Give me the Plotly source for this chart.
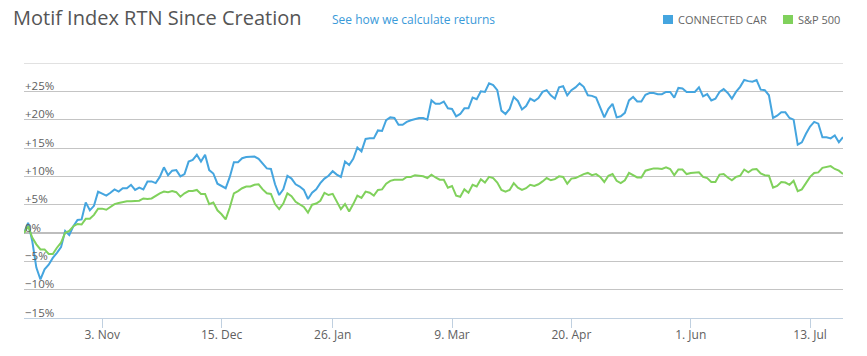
import plotly.graph_objects as go
import pandas as pd

# ---- data ----
start_date = "2014-10-07"
market_holidays = ["2014-11-27", "2014-12-25", "2015-01-01", "2015-01-19",
                   "2015-02-16", "2015-04-03", "2015-05-25", "2015-07-03"]

connected_car = [
    0, 1.8, -1.4, -6.1, -8.2, -6.4, -5.6, -4.4, -3.5, -2.5,
    0.35, -0.35, 1.2, 2.3, 2.4, 5.4, 4.0, 4.8, 7.3, 7.0,
    6.6, 7.1, 7.7, 7.3, 7.9, 7.9, 8.5, 7.6, 8.0, 7.7,
    9.1, 9.1, 8.8, 9.9, 11.6, 10.2, 11.0, 11.1, 10.0, 10.4,
    12.6, 12.9, 13.8, 12.6, 13.8, 11.1, 10.5, 8.7, 8.3, 7.9,
    9.9, 12.5, 12.5, 13.2, 13.4, 13.4, 13.5, 13.1, 12.2, 11.4,
    11.3, 8.6, 6.7, 7.7, 10.1, 9.6, 8.6, 8.2, 7.6, 6.0,
    7.1, 7.7, 8.8, 9.6, 10.1, 10.9, 10.3, 9.9, 12.6, 12.0,
    13.1, 15.1, 14.4, 16.6, 16.7, 16.7, 18.1, 18.0, 19.9, 20.4,
    20.3, 19.1, 19.1, 19.6, 19.9, 20.1, 20.3, 20.3, 20.0, 23.4,
    22.8, 22.8, 23.2, 22.0, 21.9, 20.6, 21.0, 22.0, 22.0, 23.9,
    23.6, 25.0, 24.9, 26.4, 26.1, 25.2, 21.6, 21.0, 21.9, 24.0,
    23.3, 21.8, 22.4, 23.7, 23.3, 23.8, 24.9, 25.2, 24.3, 23.7,
    25.7, 25.9, 24.3, 25.2, 25.7, 26.4, 25.8, 24.3, 24.2, 23.9,
    22.3, 20.4, 21.9, 22.8, 20.4, 20.6, 21.2, 23.4, 24.0, 23.2,
    23.2, 24.4, 24.7, 24.7, 24.5, 24.5, 24.9, 24.9, 23.9, 25.6,
    25.5, 24.9, 24.9, 24.9, 25.7, 24.1, 24.5, 23.4, 23.7, 24.9,
    25.4, 24.7, 23.7, 24.9, 25.8, 27.0, 26.8, 26.7, 27.0, 25.3,
    25.2, 24.3, 20.3, 20.7, 21.3, 21.3, 20.3, 20.0, 15.6, 16.0,
    17.5, 18.8, 19.6, 19.3, 16.9, 16.9, 16.7, 17.2, 16.0, 16.9,
]

sp500 = [
    0, 1.2, -0.8, -2.0, -2.9, -2.9, -3.7, -3.7, -2.6, -1.7,
    0.05, 0.35, 1.2, 1.6, 1.5, 2.5, 2.5, 3.2, 4.3, 4.3,
    4.1, 4.6, 5.1, 5.3, 5.5, 5.6, 5.6, 5.6, 5.7, 6.1,
    6.0, 6.1, 6.6, 7.0, 7.3, 7.2, 7.4, 7.2, 6.4, 7.0,
    7.4, 7.4, 7.6, 6.9, 6.9, 5.1, 5.4, 4.0, 3.3, 2.4,
    4.5, 7.0, 7.4, 7.9, 8.2, 8.2, 8.5, 8.6, 7.7, 7.0,
    6.9, 5.1, 4.2, 5.2, 7.0, 6.5, 5.5, 5.1, 4.6, 3.6,
    5.0, 5.2, 5.7, 7.1, 6.7, 6.9, 5.6, 4.2, 5.1, 3.8,
    5.1, 6.6, 6.2, 7.3, 7.1, 6.6, 7.6, 7.7, 8.7, 9.2,
    9.4, 9.4, 9.4, 9.9, 9.9, 10.2, 10.1, 10.0, 9.7, 10.3,
    9.8, 9.4, 9.4, 8.0, 8.3, 6.6, 6.4, 7.7, 7.1, 8.5,
    8.2, 9.5, 8.9, 9.9, 9.7, 8.9, 7.6, 7.3, 7.6, 8.8,
    8.0, 7.6, 7.9, 8.5, 8.3, 8.6, 9.1, 9.7, 9.3, 9.5,
    10.0, 9.9, 8.7, 9.6, 9.7, 10.1, 10.4, 10.6, 10.2, 10.4,
    9.9, 9.0, 10.1, 10.4, 9.2, 8.8, 9.3, 10.6, 10.2, 9.8,
    9.8, 11.0, 11.2, 11.4, 11.4, 11.3, 11.6, 11.3, 10.2, 11.2,
    11.2, 10.4, 10.6, 10.6, 10.7, 9.9, 9.7, 9.0, 9.0, 10.3,
    10.4, 9.8, 9.3, 9.9, 10.1, 11.2, 10.7, 11.2, 11.3, 10.5,
    10.2, 10.1, 8.0, 8.3, 9.0, 8.9, 8.5, 9.2, 7.4, 7.7,
    8.8, 9.9, 10.6, 10.7, 11.5, 11.7, 11.8, 11.3, 11.0, 10.4,
]

series_names = ["CONNECTED CAR", "S&P 500"]
series_colors = ["#45A5DF", "#80D15C"]

x_tick_dates = ["2014-11-03", "2014-12-15", "2015-01-26", "2015-03-09",
                "2015-04-20", "2015-06-01", "2015-07-13"]
x_tick_labels = ["3. Nov", "15. Dec", "26. Jan", "9. Mar", "20. Apr", "1. Jun", "13. Jul"]

y_tick_vals = [-15, -10, -5, 0, 5, 10, 15, 20, 25, 30]
y_tick_labels = ["\u221215%", "\u221210%", "\u22125%", "0%", "+5%", "+10%",
                 "+15%", "+20%", "+25%", ""]

title_text = "Motif Index RTN Since Creation"
link_text = "See how we calculate returns"

# ---- figure ----
dates = pd.bdate_range(start=start_date, periods=len(connected_car), freq="C",
                       holidays=market_holidays)

W, H = 867, 356
ML, MR, MT, MB = 24, 24, 63, 38
PW, PH = W - ML - MR, H - MT - MB


def px_x(px):
    return (px - ML) / PW


def px_y(py):
    return (H - MB - py) / PH


fig = go.Figure()
for name, vals, col in zip(series_names, [connected_car, sp500], series_colors):
    fig.add_trace(go.Scatter(x=dates, y=vals, mode="lines", name=name,
                             line=dict(color=col, width=2), showlegend=False,
                             hovertemplate="%{y:+.2f}%<extra>" + name + "</extra>"))

font_family = "Open Sans, Lato, sans-serif"
grid_color = "#C4C4C4"
x_tick_font = dict(family=font_family, size=12, color="#606060")
y_tick_font = dict(family=font_family, size=11.5, color="#606060")

fig.update_layout(
    width=W, height=H,
    margin=dict(l=ML, r=MR, t=MT, b=MB, pad=0),
    paper_bgcolor="white", plot_bgcolor="white",
    title=dict(text=title_text, x=13 / W, xref="container", xanchor="left",
               y=1 - 18 / H, yanchor="middle",
               font=dict(family=font_family, size=20, color="#555555")),
    xaxis=dict(
        type="date", range=[dates[0], dates[-1]],
        rangebreaks=[dict(bounds=["sat", "mon"]), dict(values=market_holidays)],
        tickvals=x_tick_dates, ticktext=x_tick_labels,
        showgrid=False, zeroline=False,
        showline=True, linecolor="#C0D0E0", linewidth=1,
        ticks="outside", ticklen=9, tickcolor="#C0D0E0", tickwidth=1,
        ticklabelstandoff=-3,
        tickfont=x_tick_font,
    ),
    yaxis=dict(
        range=[-15, 30], tickvals=y_tick_vals,
        showgrid=True, gridcolor=grid_color, gridwidth=1,
        zeroline=True, zerolinecolor="#BDBDBD", zerolinewidth=2,
        showline=False, ticks="", showticklabels=False,
    ),
)

annotations = [
    dict(text=link_text, xref="paper", yref="paper", x=px_x(330), y=px_y(20),
         xanchor="left", yanchor="middle", showarrow=False,
         font=dict(family=font_family, size=12, color="#3A9AD9")),
]
# y-axis labels drawn inside the plot, just above their gridlines
for v, lab in zip(y_tick_vals, y_tick_labels):
    if lab:
        annotations.append(dict(text=lab, xref="paper", yref="y", x=0, y=v,
                                xanchor="left", yanchor="middle", yshift=6,
                                xshift=-1, showarrow=False, font=y_tick_font))

shapes = [
    dict(type="line", xref="paper", yref="y", x0=0, x1=1, y0=30, y1=30,
         line=dict(color=grid_color, width=1), layer="below"),
]
legend_x = [663, 783]
for name, col, lx in zip(series_names, series_colors, legend_x):
    shapes.append(dict(type="rect", xref="paper", yref="paper",
                       x0=px_x(lx), x1=px_x(lx + 10), y0=px_y(24), y1=px_y(15),
                       fillcolor=col, line=dict(width=0)))
    annotations.append(dict(text=name, xref="paper", yref="paper",
                            x=px_x(lx + 13), y=px_y(19.5), xanchor="left",
                            yanchor="middle", showarrow=False,
                            font=dict(family=font_family, size=11, color="#666666")))

fig.update_layout(annotations=annotations, shapes=shapes)

fig.write_html("out.html",
               config={"displayModeBar": False},
               post_script="document.body.style.margin='0px';"
                           "document.body.style.overflow='hidden';")
